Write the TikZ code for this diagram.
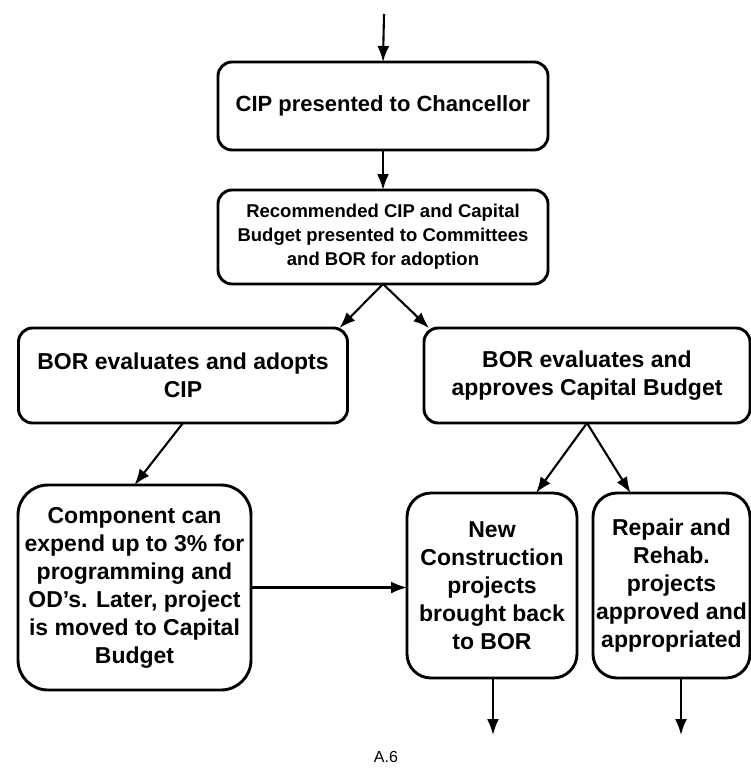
\documentclass[tikz,border=0pt]{standalone}
\usepackage{fontspec}
\setmainfont{Liberation Sans}
\usetikzlibrary{arrows.meta}

\begin{document}
\begin{tikzpicture}[x=1pt, y=-1pt, >={Latex[length=16pt,width=12pt]},
    stepbox/.style={draw, line width=2.9pt, rounded corners=14pt, align=center,
      inner sep=0pt, outer sep=0pt, font=\bfseries\fontsize{23}{28}\selectfont},
    flow/.style={->, line width=2.1pt}]
        % Cornice
        \useasboundingbox (0,0) rectangle (751,772);

        % Blocchi superiori
        \node[stepbox, minimum width=330pt, minimum height=88pt,
              font=\bfseries\fontsize{22}{26}\selectfont]
              (cip) at (383,106) {CIP presented to Chancellor};
        \node[stepbox, minimum width=330pt, minimum height=94pt,
              font=\bfseries\fontsize{18.5}{24}\selectfont]
              (rec) at (383,237) {Recommended CIP and Capital\\Budget presented to Committees\\and BOR for adoption};

        % Due rami
        \node[stepbox, minimum width=329pt, minimum height=95pt]
              (adopt) at (183,375.5) {BOR evaluates and adopts\\CIP};
        \node[stepbox, minimum width=326pt, minimum height=95pt]
              (approve) at (587,375.5) {BOR evaluates and\\approves Capital Budget};

        % Blocchi inferiori
        \node[stepbox, rounded corners=30pt, minimum width=233pt, minimum height=205pt]
              (comp) at (134.5,587.5) {Component can\\expend up to 3\% for\\programming and\\OD's.  Later, project\\is moved to Capital\\Budget};
        \node[stepbox, rounded corners=24pt, minimum width=170pt, minimum height=185pt]
              (newc) at (492,585.5) {New\\Construction\\projects\\brought back\\to BOR};
        \node[stepbox, rounded corners=24pt, minimum width=157pt, minimum height=185pt]
              (repair) at (671.5,585.5) {Repair and\\Rehab.\\projects\\approved and\\appropriated};

        % Estremi liberi
        \coordinate (in) at (384,14);
        \coordinate (outA) at (493,735);
        \coordinate (outB) at (681,735);

        % Frecce
        \draw[flow] (in) -- (cip.north);
        \draw[flow] (cip.south) -- (rec.north);
        \draw[flow] (rec.south) -- ([xshift=-8pt]adopt.north east);
        \draw[flow] (rec.south) -- ([xshift=5pt]approve.north west);
        \draw[flow] (adopt.south) -- (comp.north);
        \draw[flow] (approve.south) -- ([xshift=44pt]newc.north);
        \draw[flow] (approve.south) -- ([xshift=-41pt]repair.north);
        \draw[flow] (comp.east) -- (comp.east -| newc.west);
        \draw[flow] (outA |- newc.south) -- (outA);
        \draw[flow] (outB |- repair.south) -- (outB);

        % Pagina
        \node[font=\fontsize{16}{18}\selectfont] (page) at (386,757) {A.6};

\end{tikzpicture}
\end{document}
